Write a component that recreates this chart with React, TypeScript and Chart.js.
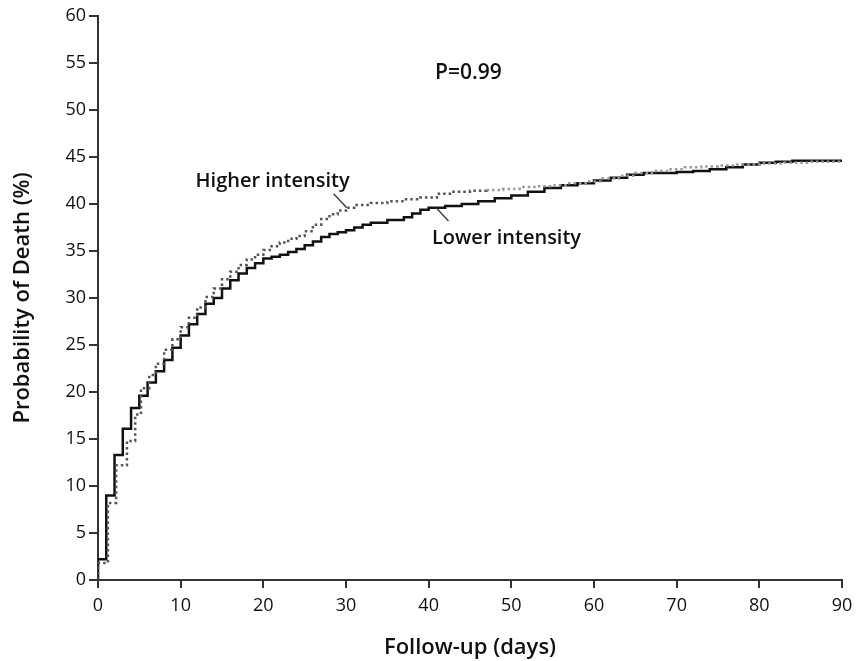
import { useEffect, useRef } from 'react';
import { Chart, registerables } from 'chart.js';

Chart.register(...registerables);

// Lower intensity (solid) — Kaplan-Meier steps: day, cumulative probability (%)
const lowerDays = [0, 0, 1, 2, 3, 4, 5, 6, 7, 8, 9, 10, 11, 12, 13, 14, 15, 16, 17, 18, 19, 20, 21, 22, 23, 24, 25, 26, 27, 28, 29, 30, 31, 32, 33, 35, 37, 38, 39, 40, 42, 44, 46, 48, 50, 52, 54, 56, 58, 60, 62, 64, 66, 70, 72, 74, 76, 78, 80, 82, 84, 90];
const lowerValues = [0, 2.2, 9.0, 13.3, 16.1, 18.3, 19.6, 21.0, 22.2, 23.4, 24.7, 26.0, 27.2, 28.3, 29.4, 30.0, 31.0, 31.9, 32.6, 33.2, 33.7, 34.2, 34.4, 34.6, 34.9, 35.2, 35.6, 36.0, 36.5, 36.8, 37.0, 37.2, 37.5, 37.8, 38.0, 38.3, 38.6, 39.0, 39.4, 39.6, 39.8, 40.0, 40.3, 40.6, 40.9, 41.3, 41.7, 42.0, 42.2, 42.5, 42.8, 43.1, 43.3, 43.4, 43.5, 43.7, 43.9, 44.2, 44.4, 44.5, 44.6, 44.6];

// Higher intensity (dotted)
const higherDays = [0, 0, 1.2, 2.2, 3.5, 4.5, 5.2, 6.2, 7, 8, 9, 10, 11, 12, 13, 14, 15, 16, 17, 18, 19, 20, 21, 22, 23, 24, 25, 26, 27, 28, 29, 30, 31, 33, 35, 37, 39, 41, 43, 45, 47, 49, 51, 53, 55, 57, 59, 61, 63, 65, 67, 69, 71, 73, 75, 77, 80, 83, 86, 90];
const higherValues = [0, 1.8, 8.2, 12.2, 14.8, 17.6, 20.4, 21.8, 23.0, 24.5, 25.6, 26.9, 27.9, 29.0, 30.1, 31.0, 32.0, 32.8, 33.5, 34.1, 34.6, 35.1, 35.5, 35.9, 36.3, 36.6, 37.1, 37.8, 38.4, 38.9, 39.3, 39.6, 39.9, 40.1, 40.3, 40.5, 40.7, 41.1, 41.3, 41.4, 41.5, 41.6, 41.8, 41.9, 42.0, 42.2, 42.4, 42.7, 43.0, 43.3, 43.5, 43.7, 43.9, 44.0, 44.1, 44.2, 44.3, 44.4, 44.5, 44.5];

const xTicks = [0, 10, 20, 30, 40, 50, 60, 70, 80, 90];
const yTicks = [0, 5, 10, 15, 20, 25, 30, 35, 40, 45, 50, 55, 60];

const seriesLabels = ['Lower intensity', 'Higher intensity'];
const pValueText = 'P=0.99';

const FONT = '"Open Sans", "DejaVu Sans", sans-serif';

const textNotes = [
  { text: pValueText, x: 44.8, y: 53.9, align: 'center' as CanvasTextAlign, size: 21 },
  { text: seriesLabels[1], x: 11.8, y: 42.4, align: 'left' as CanvasTextAlign, size: 20 },
  { text: seriesLabels[0], x: 40.4, y: 36.4, align: 'left' as CanvasTextAlign, size: 20 },
];
const pointerNotes = [
  { x1: 28.5, y1: 41.1, x2: 30.1, y2: 39.6 },
  { x1: 40.9, y1: 39.6, x2: 42.4, y2: 38.2 },
];

const notesPlugin = {
  id: 'notes',
  afterDatasetsDraw(chart: any) {
    const { ctx, scales } = chart;
    const xs = scales.x;
    const ys = scales.y;
    ctx.save();
    ctx.fillStyle = '#111';
    ctx.textBaseline = 'middle';
    for (const n of textNotes) {
      ctx.font = `600 ${n.size}px ${FONT}`;
      ctx.textAlign = n.align;
      ctx.fillText(n.text, xs.getPixelForValue(n.x), ys.getPixelForValue(n.y));
    }
    ctx.strokeStyle = '#444';
    ctx.lineWidth = 1.5;
    for (const p of pointerNotes) {
      ctx.beginPath();
      ctx.moveTo(xs.getPixelForValue(p.x1), ys.getPixelForValue(p.y1));
      ctx.lineTo(xs.getPixelForValue(p.x2), ys.getPixelForValue(p.y2));
      ctx.stroke();
    }
    ctx.restore();
  },
};

export default function App() {
  const ref = useRef<HTMLCanvasElement | null>(null);
  useEffect(() => {
    document.body.style.margin = '0';
    if (!ref.current) return;
    const chart = new Chart(ref.current, {
      type: 'line',
      data: {
        datasets: [
          {
            label: seriesLabels[1],
            data: higherDays.map((d, i) => ({ x: d, y: higherValues[i] })),
            borderColor: '#555',
            borderWidth: 2.5,
            borderDash: [2.5, 3],
            stepped: true,
            pointRadius: 0,
            fill: false,
            segment: {
              borderColor: (c: any) => (c.p0.parsed.x > 46 ? '#999' : '#555'),
            },
          },
          {
            label: seriesLabels[0],
            data: lowerDays.map((d, i) => ({ x: d, y: lowerValues[i] })),
            borderColor: '#111',
            borderWidth: 2.5,
            stepped: true,
            pointRadius: 0,
            fill: false,
          },
        ],
      },
      options: {
        animation: false,
        responsive: true,
        maintainAspectRatio: false,
        layout: { padding: { top: 16, right: 18, left: 0, bottom: 0 } },
        plugins: { legend: { display: false }, tooltip: { enabled: false } },
        scales: {
          x: {
            type: 'linear',
            min: 0,
            max: 90,
            afterBuildTicks: (s: any) => { s.ticks = xTicks.map((v) => ({ value: v })); },
            afterFit: (s: any) => { s.height = 81; },
            grid: { drawOnChartArea: false, drawTicks: true, tickLength: 8, color: '#333', lineWidth: 2 },
            border: { display: true, color: '#333', width: 2 },
            ticks: { color: '#111', font: { family: FONT, size: 18 }, padding: 7, maxRotation: 0, autoSkip: false },
            title: { display: true, text: 'Follow-up (days)', color: '#111', font: { family: FONT, size: 22, weight: '600' }, padding: { top: 4, bottom: 0 } },
          },
          y: {
            type: 'linear',
            min: 0,
            max: 60,
            afterBuildTicks: (s: any) => { s.ticks = yTicks.map((v) => ({ value: v })); },
            afterFit: (s: any) => { s.width = 98; },
            grid: { drawOnChartArea: false, drawTicks: true, tickLength: 9, color: '#333', lineWidth: 2 },
            border: { display: true, color: '#333', width: 2 },
            ticks: { color: '#111', font: { family: FONT, size: 18 }, padding: 3, autoSkip: false },
            title: { display: true, text: 'Probability of Death (%)', color: '#111', font: { family: FONT, size: 22, weight: '600' }, padding: { top: 10, bottom: 4 } },
          },
        },
      },
      plugins: [notesPlugin],
    });
    return () => chart.destroy();
  }, []);
  return (
    <div style={{ width: 860, height: 661, position: 'relative', background: '#fff' }}>
      <canvas ref={ref} />
    </div>
  );
}
